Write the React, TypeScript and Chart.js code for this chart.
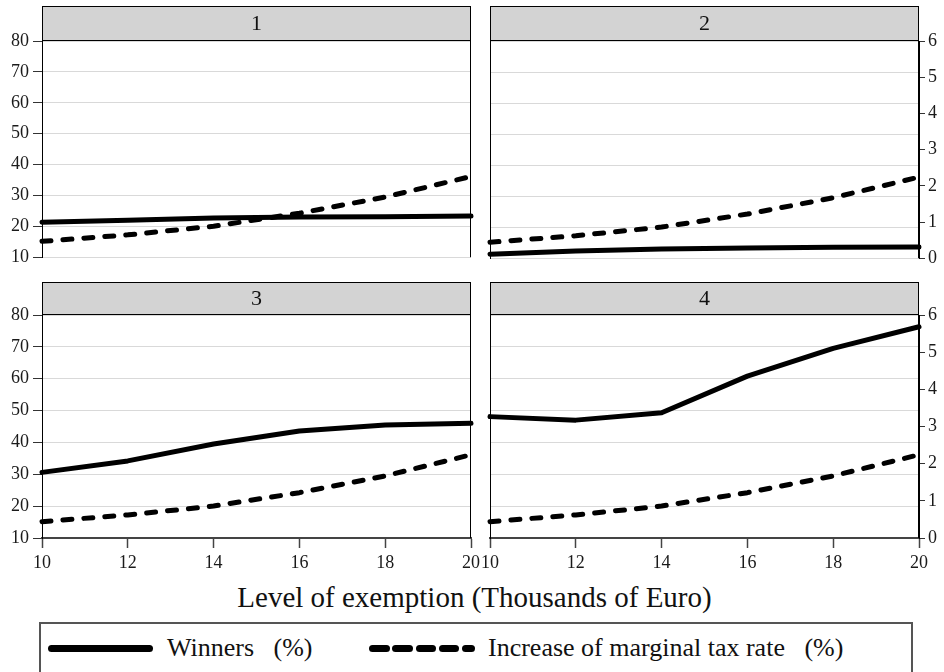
import React, { useEffect, useRef } from 'react';
import { Chart, registerables } from 'chart.js';

Chart.register(...registerables);

// ---------- data ----------
const exemption = ['10', '12', '14', '16', '18', '20'];
const panelLabels = ['1', '2', '3', '4'];
const winners1 = [21.3, 22.0, 22.7, 23.0, 23.1, 23.3];
const winners2 = [11.3, 12.3, 13.0, 13.3, 13.5, 13.6];
const winners3 = [30.6, 34.2, 39.5, 43.6, 45.5, 46.0];
const winners4 = [48.1, 47.0, 49.3, 60.8, 69.5, 76.3];
const taxIncrease = [0.44, 0.62, 0.86, 1.22, 1.67, 2.24];
const seriesNames = ['Winners   (%)', 'Increase of marginal tax rate   (%)'];
const xAxisTitle = 'Level of exemption (Thousands of Euro)';
const leftAxis = { min: 10, max: 80, step: 10 };
const rightAxis = { min: 0, max: 6, step: 1 };

const FONT = "'Liberation Serif', 'Times New Roman', Times, serif";

Chart.defaults.font.family = FONT;
Chart.defaults.font.size = 18;
Chart.defaults.color = '#1a1a1a';

type Spec = {
  label: string;
  winners: number[];
  side: 'left' | 'right';
  bottom: boolean;
  left: number;
  top: number;
  width: number;
  height: number;
  padding: { top: number; left: number; right: number; bottom: number };
  strip: number;
};

const panels: Spec[] = [
  { label: panelLabels[0], winners: winners1, side: 'left', bottom: false, left: 0, top: 0, width: 490, height: 272, padding: { top: 41, left: 0, right: 19, bottom: 8 }, strip: 34 },
  { label: panelLabels[1], winners: winners2, side: 'right', bottom: false, left: 470, top: 0, width: 474, height: 272, padding: { top: 41, left: 20, right: 0, bottom: 8 }, strip: 34 },
  { label: panelLabels[2], winners: winners3, side: 'left', bottom: true, left: 0, top: 276, width: 490, height: 300, padding: { top: 39, left: 0, right: 19, bottom: 0 }, strip: 32 },
  { label: panelLabels[3], winners: winners4, side: 'right', bottom: true, left: 470, top: 276, width: 474, height: 300, padding: { top: 39, left: 20, right: 0, bottom: 0 }, strip: 32 },
];

const stripPlugin = {
  id: 'strip',
  afterDraw(chart: any, _args: any, opts: any) {
    const { ctx, chartArea } = chart;
    const { left, right, top, bottom } = chartArea;
    const h = opts.height;
    const L = Math.round(left) + 0.5;
    const R = Math.round(right) - 0.5;
    const T = Math.round(top) - 0.5;
    ctx.save();
    ctx.fillStyle = '#d3d3d3';
    ctx.fillRect(L, T - h, R - L, h);
    ctx.strokeStyle = '#000';
    ctx.lineWidth = 1;
    ctx.strokeRect(L, T - h, R - L, h);
    ctx.beginPath();
    ctx.moveTo(L, T);
    ctx.lineTo(L, bottom);
    ctx.moveTo(R, T);
    ctx.lineTo(R, bottom);
    ctx.stroke();
    ctx.fillStyle = '#111';
    ctx.font = `22px ${FONT}`;
    ctx.textAlign = 'center';
    ctx.textBaseline = 'middle';
    ctx.fillText(opts.text, (left + right) / 2, T - h / 2 + 1);
    ctx.restore();
  },
};

function Panel({ spec }: { spec: Spec }) {
  const ref = useRef<HTMLCanvasElement>(null);
  useEffect(() => {
    if (!ref.current) return;
    const tickFont = { size: 18, family: FONT };
    const chart = new Chart(ref.current, {
      type: 'line',
      data: {
        labels: exemption,
        datasets: [
          {
            label: seriesNames[0],
            data: spec.winners,
            yAxisID: 'y',
            borderColor: '#000',
            borderWidth: 5,
            pointRadius: 0,
            tension: 0,
            borderCapStyle: 'round',
            borderJoinStyle: 'round',
            clip: false as any,
          },
          {
            label: seriesNames[1],
            data: taxIncrease,
            yAxisID: 'y1',
            borderColor: '#000',
            borderWidth: 5,
            borderDash: [9, 12],
            pointRadius: 0,
            tension: 0,
            borderCapStyle: 'round',
            borderJoinStyle: 'round',
            clip: false as any,
          },
        ],
      },
      options: {
        animation: false,
        responsive: false,
        devicePixelRatio: 1,
        events: [],
        layout: { padding: spec.padding },
        plugins: {
          legend: { display: false },
          tooltip: { enabled: false },
          strip: { text: spec.label, height: spec.strip },
        } as any,
        scales: {
          x: {
            type: 'category',
            offset: false,
            display: spec.bottom,
            ticks: { padding: 4, maxRotation: 0, autoSkip: false, color: '#1a1a1a', font: tickFont },
            grid: { display: true, drawOnChartArea: false, drawTicks: true, tickLength: 10, tickColor: '#444', tickWidth: 1.5 },
            border: { display: true, color: '#444', width: 2 },
            afterFit: (s: any) => { s.height = spec.bottom ? 38 : 0; },
          },
          y: {
            type: 'linear',
            position: 'left',
            min: leftAxis.min,
            max: leftAxis.max,
            display: true,
            ticks: { stepSize: leftAxis.step, display: spec.side === 'left', padding: 4, color: '#1a1a1a', font: tickFont },
            grid: { color: '#d9d9d9', lineWidth: 1, drawTicks: spec.side === 'left', tickLength: 9, tickColor: '#333' },
            border: { display: true, color: '#000', width: 1 },
            afterFit: (s: any) => { s.width = spec.side === 'left' ? 42 : 0; },
          },
          y1: {
            type: 'linear',
            position: 'right',
            min: rightAxis.min,
            max: rightAxis.max,
            display: spec.side === 'right',
            ticks: { stepSize: rightAxis.step, padding: 3, color: '#1a1a1a', font: tickFont },
            grid: { drawOnChartArea: false, drawTicks: true, tickLength: 6, tickColor: '#333' },
            border: { display: true, color: '#000', width: 1 },
            afterFit: (s: any) => { s.width = spec.side === 'right' ? 25 : 0; },
          },
        },
      } as any,
      plugins: [stripPlugin as any],
    });
    return () => chart.destroy();
  }, [spec]);
  return (
    <canvas
      ref={ref}
      width={spec.width}
      height={spec.height}
      style={{ position: 'absolute', left: spec.left, top: spec.top, width: spec.width, height: spec.height }}
    />
  );
}

export default function App() {
  const dashes = [0, 1, 2, 3, 4];
  return (
    <div
      style={{
        position: 'absolute',
        left: 0,
        top: 0,
        width: 944,
        height: 672,
        overflow: 'hidden',
        background: '#fff',
        fontFamily: FONT,
        color: '#111',
      }}
    >
      {panels.map((p) => (
        <Panel key={p.label} spec={p} />
      ))}
      <div
        style={{
          position: 'absolute',
          left: 0,
          width: 949,
          top: 583,
          textAlign: 'center',
          fontSize: 29,
          lineHeight: 1,
          whiteSpace: 'nowrap',
        }}
      >
        {xAxisTitle}
      </div>
      <div
        style={{
          position: 'absolute',
          left: 39,
          top: 622,
          width: 874,
          height: 90,
          border: '2px solid #555',
          boxSizing: 'border-box',
        }}
      />
      <div
        style={{ position: 'absolute', left: 48, top: 645, width: 105, height: 6.5, borderRadius: 3.5, background: '#000' }}
      />
      <div style={{ position: 'absolute', left: 167, top: 635, fontSize: 26, lineHeight: 1, whiteSpace: 'pre' }}>
        {seriesNames[0]}
      </div>
      {dashes.map((i) => (
        <div
          key={i}
          style={{
            position: 'absolute',
            left: 369 + i * 23.3,
            top: 645,
            width: i === 4 ? 12.5 : 20.5,
            height: 6.5,
            borderRadius: 3.5,
            background: '#000',
          }}
        />
      ))}
      <div style={{ position: 'absolute', left: 488, top: 635, fontSize: 26, lineHeight: 1, whiteSpace: 'pre' }}>
        {seriesNames[1]}
      </div>
    </div>
  );
}
